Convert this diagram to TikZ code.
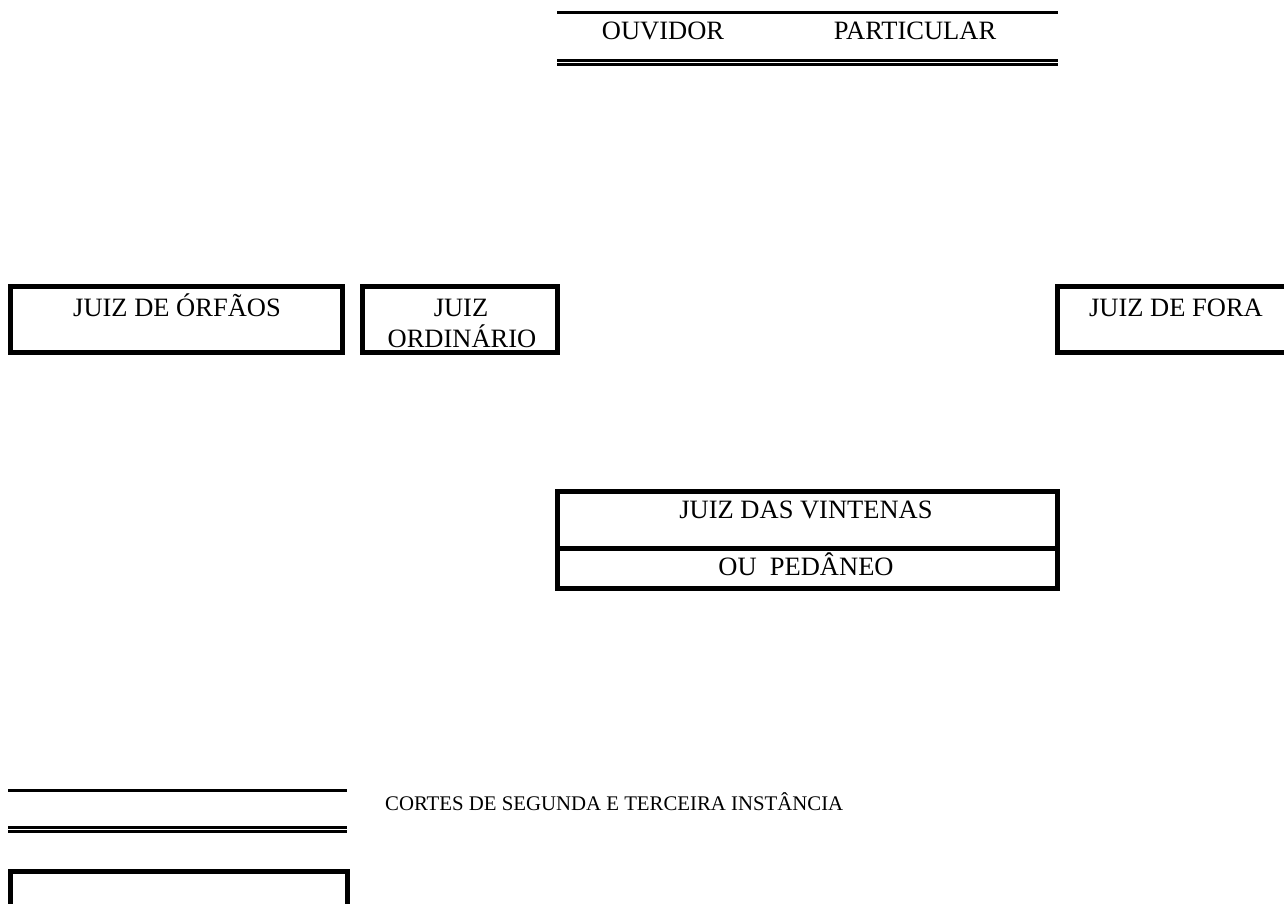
\documentclass[tikz,border=0pt]{standalone}
\usepackage{fontspec}
\setmainfont{Liberation Serif}
\tikzset{
  frame/.style={line width=5pt, line cap=rect},
  rule/.style={line width=3pt},
  thinrule/.style={line width=2.7pt},
  lbl/.style={anchor=base, inner sep=0pt, font=\fontsize{26.5}{30}\selectfont},
  small/.style={anchor=base west, inner sep=0pt, font=\fontsize{20.8}{24}\selectfont},
}
\begin{document}
\begin{tikzpicture}[x=1pt,y=-1pt]
\useasboundingbox (0,0) rectangle (1284,903);
\clip (0,0) rectangle (1284,903);
% top: ouvidor particular
\draw[rule] (557,12.5) -- (1058,12.5);
\draw[thinrule] (557,60.7) -- (1058,60.7);
\draw[thinrule] (557,64.7) -- (1058,64.7);
\node[lbl] (ouv) at (663,39) {OUVIDOR};
\node[lbl] (part) at (915,39) {PARTICULAR};
% juiz de orfaos
\draw[frame] (10.5,286.5) rectangle (342.5,352.5);
\node[lbl] (orf) at (177,316) {JUIZ DE ÓRFÃOS};
% juiz ordinario
\draw[frame] (362.5,286.5) rectangle (557.5,352.5);
\node[lbl] (ord1) at (461,316) {JUIZ};
\node[lbl] (ord2) at (462,347) {ORDINÁRIO};
% juiz de fora
\draw[frame] (1300,286.5) -- (1057.5,286.5) -- (1057.5,352.5) -- (1300,352.5);
\node[lbl] (fora) at (1176,316) {JUIZ DE FORA};
% juiz das vintenas
\draw[frame] (557.5,491.5) rectangle (1057.5,588.5);
\draw[frame] (557.5,548.5) -- (1057.5,548.5);
\node[lbl] (vint) at (806,518) {JUIZ DAS VINTENAS};
\node[lbl] (ped) at (806,575) {OU\ \ PEDÂNEO};
% legend
\draw[rule] (8,790.5) -- (347,790.5);
\draw[thinrule] (8,827.3) -- (347,827.3);
\draw[thinrule] (8,831.3) -- (347,831.3);
\node[small] (cortes) at (385,810) {CORTES DE SEGUNDA E TERCEIRA INSTÂNCIA};
\draw[frame] (10.5,920) -- (10.5,871.5) -- (347.5,871.5) -- (347.5,920);
\end{tikzpicture}
\end{document}
